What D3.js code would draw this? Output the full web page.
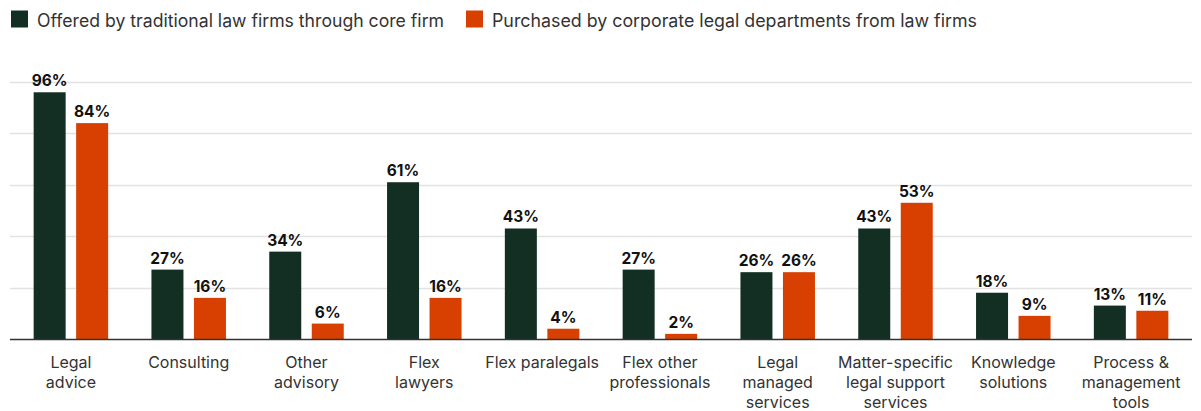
<!DOCTYPE html>
<html>
<head>
<meta charset="utf-8">
<script src="https://cdn.jsdelivr.net/npm/d3@7"></script>
<style>
  html, body { margin: 0; padding: 0; background: #fff; }
  svg { display: block; font-family: Inter, "Noto Sans", sans-serif; }
</style>
</head>
<body>
<svg id="chart" width="1201" height="411"></svg>
<script>
// Service categories (line breaks mark wrapped axis labels)
const categories = [
  "Legal\nadvice",
  "Consulting",
  "Other\nadvisory",
  "Flex\nlawyers",
  "Flex paralegals",
  "Flex other\nprofessionals",
  "Legal\nmanaged\nservices",
  "Matter-specific\nlegal support\nservices",
  "Knowledge\nsolutions",
  "Process &\nmanagement\ntools"
];
const seriesNames = [
  "Offered by traditional law firms through core firm",
  "Purchased by corporate legal departments from law firms"
];
const offered   = [96, 27, 34, 61, 43, 27, 26, 43, 18, 13];
const purchased = [84, 16, 6, 16, 4, 2, 26, 53, 9, 11];
const yTicks = [0, 20, 40, 60, 80, 100];
const colors = ["#132f23", "#d74000"];

const svg = d3.select("#chart");
const margin = { left: 12, right: 11 };
const W = 1201;
const baseY = 339;

const x = d3.scaleBand().domain(d3.range(categories.length))
  .range([margin.left, W - margin.right]).padding(0);
const y = d3.scaleLinear().domain([0, 100]).range([baseY, 82]);

const barW = 32, gap = 10.5;

// gridlines
svg.append("g").selectAll("line").data(yTicks.filter(d => d > 0)).join("line")
  .attr("x1", 10).attr("x2", 1192)
  .attr("y1", d => Math.round(y(d)) + 0.5).attr("y2", d => Math.round(y(d)) + 0.5)
  .attr("stroke", "#e2e2e2").attr("stroke-width", 1.5);

const series = [offered, purchased];
series.forEach((vals, si) => {
  const g = svg.append("g");
  const bx = i => x(i) + x.bandwidth() / 2 + (si === 0 ? -gap / 2 - barW : gap / 2);
  g.selectAll("rect").data(vals).join("rect")
    .attr("x", (d, i) => bx(i))
    .attr("y", d => y(d))
    .attr("width", barW)
    .attr("height", d => y(0) - y(d))
    .attr("fill", colors[si]);
  g.selectAll("text").data(vals).join("text")
    .attr("x", (d, i) => bx(i) + barW / 2)
    .attr("y", d => y(d) - 6)
    .attr("text-anchor", "middle")
    .attr("font-size", 15.5)
    .attr("font-weight", 700)
    .attr("fill", "#111")
    .text(d => d + "%");
});

// baseline
svg.append("line").attr("x1", 10).attr("x2", 1192)
  .attr("y1", baseY + 0.5).attr("y2", baseY + 0.5)
  .attr("stroke", "#333").attr("stroke-width", 1.5);

// category labels
const xl = svg.append("g");
categories.forEach((c, i) => {
  const t = xl.append("text")
    .attr("x", x(i) + x.bandwidth() / 2)
    .attr("y", 368)
    .attr("text-anchor", "middle")
    .attr("font-size", 16)
    .attr("fill", "#333");
  c.split("\n").forEach((line, k) => {
    t.append("tspan").attr("x", x(i) + x.bandwidth() / 2)
      .attr("dy", k === 0 ? 0 : 20).text(line);
  });
});

// legend
const legX = [11, 466];
const legLen = [407, 485];
seriesNames.forEach((n, i) => {
  svg.append("rect").attr("x", legX[i]).attr("y", 10.5)
    .attr("width", 17).attr("height", 17).attr("fill", colors[i]);
  svg.append("text").attr("x", legX[i] + 26).attr("y", 26.5)
    .attr("font-size", 18).attr("fill", "#333")
    .attr("textLength", legLen[i]).attr("lengthAdjust", "spacingAndGlyphs")
    .text(n);
});
</script>
</body>
</html>
